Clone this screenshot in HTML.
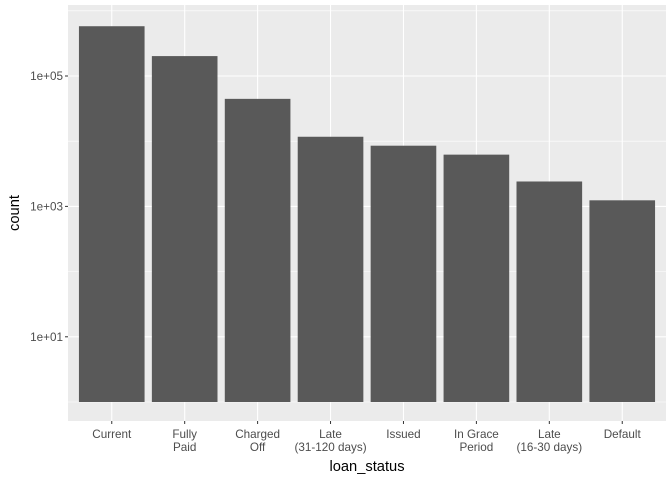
<!DOCTYPE html>
<html><head><meta charset="utf-8"><style>
body{margin:0;background:#fff;font-family:"Liberation Sans",Arial,sans-serif}
</style></head><body>
<svg id="chart" width="672" height="480" xmlns="http://www.w3.org/2000/svg"></svg>
<script>
const categories=["Current","Fully\nPaid","Charged\nOff","Late\n(31-120 days)","Issued","In Grace\nPeriod","Late\n(16-30 days)","Default"];
const counts=[580000,202000,44600,11700,8530,6220,2410,1240];
const yTicks=[1,3,5];
const yTickLabels=["1e+01","1e+03","1e+05"];
const yMinor=[0,2,4,6];
const svg=document.getElementById('chart');
const NS="http://www.w3.org/2000/svg";
const L=68,R=666,T=5,B=421;
const perDecade=65.2, y0=402;
function y(lv){return y0-lv*perDecade;}
const unit=(R-L)/(categories.length+0.2);
function x(i){return L+(i+0.6)*unit;}
function el(tag,attrs){const e=document.createElementNS(NS,tag);for(const k in attrs)e.setAttribute(k,attrs[k]);svg.appendChild(e);return e;}
const bg=el('rect',{x:L,y:T,width:R-L,height:B-T,fill:'#EBEBEB'});


yMinor.forEach(v=>{const yy=y(v);if(yy<T||yy>B)return;const g=el('line',{x1:L,x2:R,y1:yy,y2:yy,stroke:'#fff','stroke-width':0.55});

});
yTicks.forEach((v,i)=>{const yy=y(v);const g=el('line',{x1:L,x2:R,y1:yy,y2:yy,stroke:'#fff','stroke-width':1.1});


const tk=el('line',{x1:L-3,x2:L,y1:yy,y2:yy,stroke:'#333','stroke-width':1});


const t=el('text',{x:L-5,y:yy+4,'text-anchor':'end','font-size':11.7,fill:'#4D4D4D'});t.textContent=yTickLabels[i];

});
categories.forEach((c,i)=>{const g=el('line',{x1:x(i),x2:x(i),y1:T,y2:B,stroke:'#fff','stroke-width':1.1});

});
categories.forEach((c,i)=>{const top=y(Math.log10(counts[i]));const w=unit*0.9;
const b=el('rect',{x:x(i)-w/2,y:top,width:w,height:y(0)-top,fill:'#595959'});


const tk=el('line',{x1:x(i),x2:x(i),y1:B,y2:B+3,stroke:'#333','stroke-width':1});


const t=el('text',{x:x(i),y:B+17,'text-anchor':'middle','font-size':11.7,fill:'#4D4D4D'});


c.split('\n').forEach((ln,j)=>{const s=document.createElementNS(NS,'tspan');s.setAttribute('x',x(i));s.setAttribute('dy',j?13:0);s.textContent=ln;t.appendChild(s);});});
const xt=el('text',{x:(L+R)/2,y:471,'text-anchor':'middle','font-size':14.7,fill:'#000'});xt.textContent='loan_status';


const yt=el('text',{x:0,y:0,'text-anchor':'middle','font-size':14.7,fill:'#000',transform:'translate(19,'+((T+B)/2)+') rotate(-90)'});yt.textContent='count';


</script>
</body></html>
